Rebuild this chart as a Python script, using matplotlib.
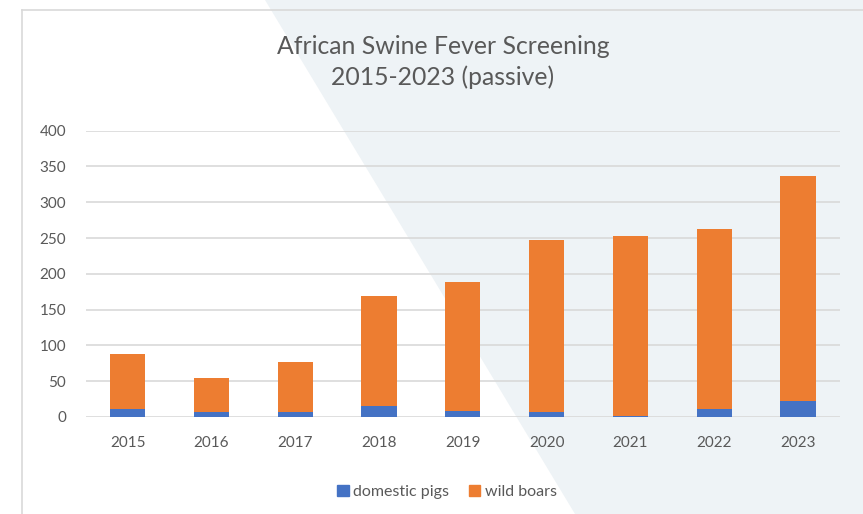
import numpy as np
import matplotlib.pyplot as plt
from matplotlib.patches import Polygon, Patch
from matplotlib.lines import Line2D

years = ["2015", "2016", "2017", "2018", "2019", "2020", "2021", "2022", "2023"]
domestic_pigs = [11, 7, 7, 15, 9, 7, 1, 11, 22]
totals = [88, 54, 77, 169, 189, 247, 253, 262, 337]
wild_boars = [t - d for t, d in zip(totals, domestic_pigs)]

BLUE = "#4472C4"
ORANGE = "#ED7D31"
TEXT = "#595959"
GRID = "#D9D9D9"
W, H = 863, 514

plt.rcParams["font.family"] = ["Lato", "DejaVu Sans"]

fig = plt.figure(figsize=(W / 100, H / 100), dpi=100)
fig.patch.set_facecolor("white")

# light diagonal background panel, kept behind everything
bg = Polygon([(265 / W, 1), (1, 1), (1, 0), (575 / W, 0)], closed=True,
             transform=fig.transFigure, facecolor="#EEF3F6", edgecolor="none", zorder=-10)
fig.add_artist(bg)

# chart frame (left + top edge)
fig.add_artist(Line2D([22 / W, 22 / W], [0, 1 - 10 / H], color=GRID, lw=1.2,
                      transform=fig.transFigure, zorder=-5))
fig.add_artist(Line2D([22 / W, 1], [1 - 10 / H, 1 - 10 / H], color=GRID, lw=1.2,
                      transform=fig.transFigure, zorder=-5))

ax = fig.add_axes([85.7 / W, 1 - 417 / H, (840 - 85.7) / W, (417 - 130.7) / H])
ax.set_facecolor("none")
ax.set_zorder(1)

x = np.arange(len(years))
ax.bar(x, domestic_pigs, width=0.42, color=BLUE, zorder=3)
ax.bar(x, wild_boars, width=0.42, bottom=domestic_pigs, color=ORANGE, zorder=3)

ax.set_xlim(-0.5, len(years) - 0.5)
ax.set_ylim(0, 400)
ax.set_yticks(range(0, 401, 50))
ax.set_xticks(x)
ax.set_xticklabels(years)
ax.tick_params(length=0, colors=TEXT, labelsize=11)
ax.tick_params(axis="y", pad=14)
ax.tick_params(axis="x", pad=14)
ax.yaxis.grid(True, color=GRID, lw=1.2, zorder=0)
for s in ax.spines.values():
    s.set_visible(False)

fig.text(443 / W, 1 - 62 / H, "African Swine Fever Screening\n2015-2023 (passive)",
         ha="center", va="center", fontsize=17.8, color=TEXT,
         linespacing=1.35, zorder=5)

handles = [Patch(color=BLUE, label="domestic pigs"), Patch(color=ORANGE, label="wild boars")]
fig.legend(handles=handles, loc="center", bbox_to_anchor=(447 / W, 1 - 492 / H), ncol=2,
           frameon=False, fontsize=11.5, labelcolor=TEXT, handlelength=0.7,
           handleheight=0.7, handletextpad=0.3, columnspacing=1.2)

fig.savefig("out.png", dpi=100)
